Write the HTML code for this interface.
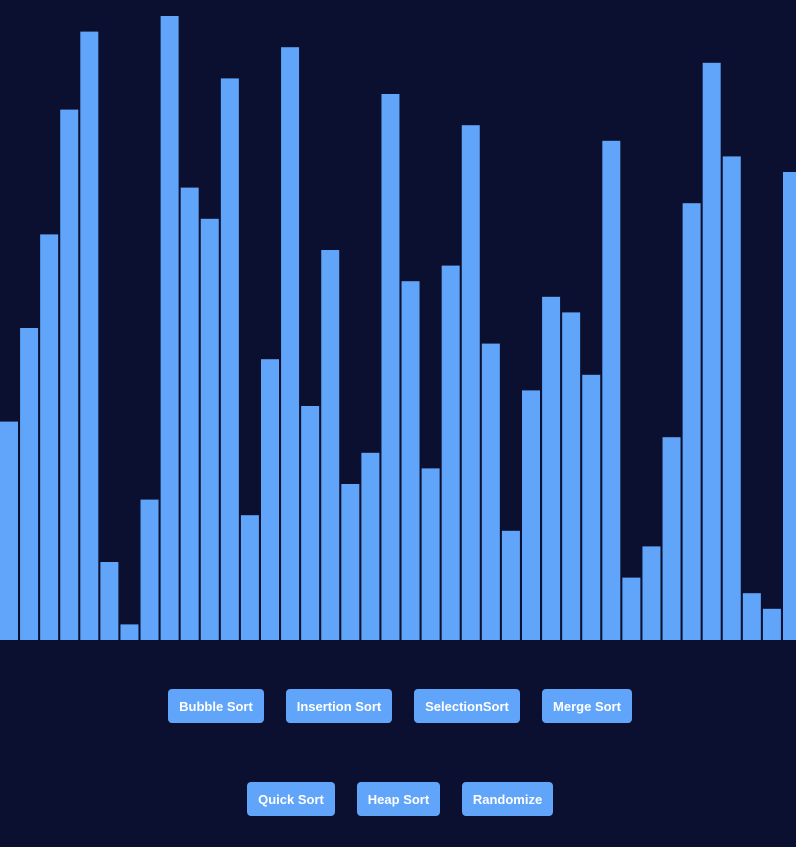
<!DOCTYPE html>
<html><head><meta charset="utf-8"><style>
html,body{margin:0;padding:0;width:796px;height:847px;background:#0b0f30;overflow:hidden;font-family:"Liberation Sans",sans-serif}
#chart{position:absolute;left:0;top:0}
.btn{position:absolute;height:34px;background:#60a5fa;color:#fff;border:none;border-radius:4px;font-weight:bold;font-size:13px;font-family:"Liberation Sans",sans-serif;display:flex;align-items:center;justify-content:center;padding:0}
</style></head><body>
<svg id="chart" width="796" height="645"></svg>
<button class="btn" style="left:168px;top:689px;width:96px">Bubble Sort</button>
<button class="btn" style="left:286px;top:689px;width:106px">Insertion Sort</button>
<button class="btn" style="left:414px;top:689px;width:106px">SelectionSort</button>
<button class="btn" style="left:542px;top:689px;width:90px">Merge Sort</button>
<button class="btn" style="left:247px;top:782px;width:88px">Quick Sort</button>
<button class="btn" style="left:357px;top:782px;width:83px">Heap Sort</button>
<button class="btn" style="left:462px;top:782px;width:91px">Randomize</button>
<script>
const values=[14,20,26,34,39,5,1,9,40,29,27,36,8,18,38,15,25,10,12,35,23,11,24,33,19,7,16,22,21,17,32,4,6,13,28,37,31,3,2,30];
const maxValue=40;
const svg=document.getElementById('chart');
const baseY=640, plotH=624, step=783/39, barW=18;
function xScale(i){return i*step;}
function yScale(v){return baseY-v/maxValue*plotH;}
values.forEach((v,i)=>{
  const r=document.createElementNS('http://www.w3.org/2000/svg','rect');
  r.setAttribute('x',xScale(i).toFixed(2));
  r.setAttribute('y',yScale(v).toFixed(2));
  r.setAttribute('width',barW);
  r.setAttribute('height',(baseY-yScale(v)).toFixed(2));
  r.setAttribute('fill','#60a5fa');
  
  
  svg.appendChild(r);
});
</script>
</body></html>
